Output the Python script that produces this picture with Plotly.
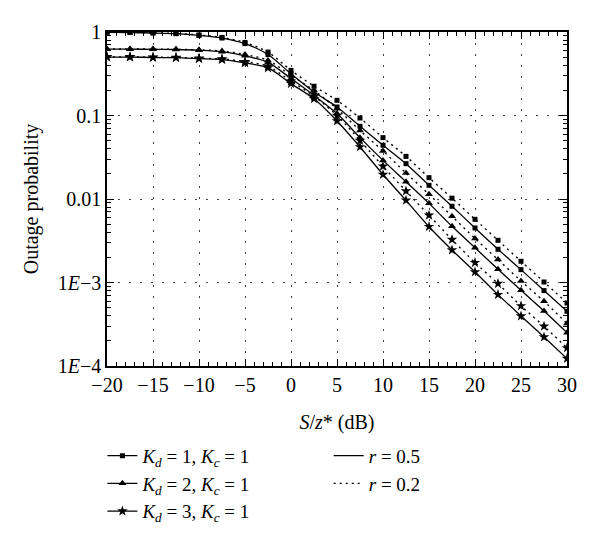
import plotly.graph_objects as go

snr_db = [-20, -17.5, -15, -12.5, -10, -7.5, -5, -2.5, 0, 2.5, 5, 7.5, 10,
          12.5, 15, 17.5, 20, 22.5, 25, 27.5, 30]

# r = 0.5 (solid)
kd1_r05 = [0.991, 0.986, 0.973, 0.955, 0.912, 0.847, 0.726, 0.537, 0.316, 0.191,
           0.1265, 0.0743, 0.0440, 0.0265, 0.01459, 0.00818, 0.00450, 0.00250,
           0.001426, 0.000800, 0.000452]
kd2_r05 = [0.622, 0.622, 0.621, 0.617, 0.605, 0.581, 0.519, 0.432, 0.277, 0.1738,
           0.1054, 0.0543, 0.0290, 0.01611, 0.00887, 0.00471, 0.00261, 0.001439,
           0.000807, 0.000456, 0.000251]
kd3_r05 = [0.501, 0.501, 0.495, 0.492, 0.480, 0.468, 0.427, 0.371, 0.241, 0.1585,
           0.0859, 0.0420, 0.01963, 0.00964, 0.00466, 0.00245, 0.001337, 0.000716,
           0.000397, 0.000222, 0.0001227]
# r = 0.2 (dotted)
kd1_r02 = [0.993, 0.989, 0.977, 0.959, 0.920, 0.861, 0.750, 0.575, 0.347, 0.224,
           0.152, 0.0933, 0.0543, 0.0324, 0.0180, 0.01023, 0.00571, 0.00320,
           0.001795, 0.001014, 0.000568]
kd2_r02 = [0.625, 0.625, 0.624, 0.621, 0.611, 0.592, 0.537, 0.457, 0.302, 0.1995,
           0.1202, 0.0661, 0.0376, 0.02046, 0.01138, 0.00621, 0.00336, 0.00188,
           0.001042, 0.000596, 0.000322]
kd3_r02 = [0.504, 0.504, 0.499, 0.495, 0.485, 0.476, 0.442, 0.389, 0.257, 0.170,
           0.100, 0.0501, 0.02466, 0.01247, 0.00638, 0.00327, 0.00173, 0.000970,
           0.000524, 0.000299, 0.0001644]

series_names = ["<i>K</i><sub><i>d</i></sub> = 1, <i>K</i><sub><i>c</i></sub> = 1",
                "<i>K</i><sub><i>d</i></sub> = 2, <i>K</i><sub><i>c</i></sub> = 1",
                "<i>K</i><sub><i>d</i></sub> = 3, <i>K</i><sub><i>c</i></sub> = 1"]
r_names = ["<i>r</i> = 0.5", "<i>r</i> = 0.2"]

y_tickvals = [1, 0.1, 0.01, 0.001, 0.0001]
y_ticktext = ["1", "0.1", "0.01", "1<i>E</i>−3", "1<i>E</i>−4"]
x_tickvals = [-20, -15, -10, -5, 0, 5, 10, 15, 20, 25, 30]

FONT = "Liberation Serif, DejaVu Serif, serif"
symbols = ["square", "triangle-up", "star"]
sizes = [5, 7, 8]
solid_data = [kd1_r05, kd2_r05, kd3_r05]
dotted_data = [kd1_r02, kd2_r02, kd3_r02]

fig = go.Figure()
for i in range(3):
    fig.add_trace(go.Scatter(
        x=snr_db, y=solid_data[i], mode="lines+markers", name=series_names[i],
        line=dict(color="black", width=1.3, shape="spline", smoothing=0.8),
        marker=dict(symbol=symbols[i], size=sizes[i], color="black"),
        legend="legend"))
for i in range(3):
    fig.add_trace(go.Scatter(
        x=snr_db, y=dotted_data[i], mode="lines+markers", showlegend=False,
        line=dict(color="black", width=1.4, dash="2px,4px", shape="spline", smoothing=0.8),
        marker=dict(symbol=symbols[i], size=sizes[i], color="black")))

fig.add_trace(go.Scatter(x=[None], y=[None], mode="lines", name=r_names[0],
                         line=dict(color="black", width=1.3), legend="legend2"))
fig.add_trace(go.Scatter(x=[None], y=[None], mode="lines", name=r_names[1],
                         line=dict(color="black", width=1.4, dash="2px,4px"), legend="legend2"))

minor_y = [k * 10.0 ** e for e in range(-4, 0) for k in range(2, 10)]

fig.add_annotation(x=-15.2, y=0.07, yref="y", xref="x",
                   text="<i>S</i> = <i>z</i><sub><i>τ</i></sub>", showarrow=False,
                   xanchor="left", font=dict(family=FONT, size=20, color="black"))

fig.update_layout(
    width=600, height=542,
    paper_bgcolor="white", plot_bgcolor="white",
    margin=dict(l=99, r=41, t=24, b=184),
    font=dict(family=FONT, size=20, color="black"),
    xaxis=dict(range=[-20, 30], tickvals=x_tickvals, ticks="inside", ticklen=7,
               tickwidth=1.2, tickcolor="black", mirror="ticks", showline=True,
               linecolor="black", linewidth=1.5, showgrid=True, gridcolor="#444",
               gridwidth=1, griddash="2px,9px", zeroline=False,
               minor=dict(dtick=1, ticks="inside", ticklen=4, tickcolor="black", showgrid=False),
               title=dict(text="<i>S</i>/<i>z</i>* (dB)", font=dict(family=FONT, size=20), standoff=20),
               tickfont=dict(family=FONT, size=20)),
    yaxis=dict(type="log", range=[-4, 0], tickvals=y_tickvals, ticktext=y_ticktext,
               ticks="inside", ticklen=7, tickwidth=1.2, tickcolor="black",
               mirror="ticks", showline=True, linecolor="black", linewidth=1.5,
               showgrid=True, gridcolor="#444", gridwidth=1, griddash="2px,9px",
               zeroline=False,
               minor=dict(tickvals=minor_y, ticks="inside", ticklen=4, tickcolor="black", showgrid=False),
               title=dict(text="Outage probability", font=dict(family=FONT, size=20), standoff=14),
               tickfont=dict(family=FONT, size=20)),
    legend=dict(x=-0.01, y=-0.212, xanchor="left", yanchor="top", bgcolor="rgba(0,0,0,0)",
                font=dict(family=FONT, size=19), tracegroupgap=0, itemwidth=30),
    legend2=dict(x=0.482, y=-0.212, xanchor="left", yanchor="top", bgcolor="rgba(0,0,0,0)",
                 font=dict(family=FONT, size=19), tracegroupgap=0, itemwidth=30),
)

fig.write_html("out.html")
